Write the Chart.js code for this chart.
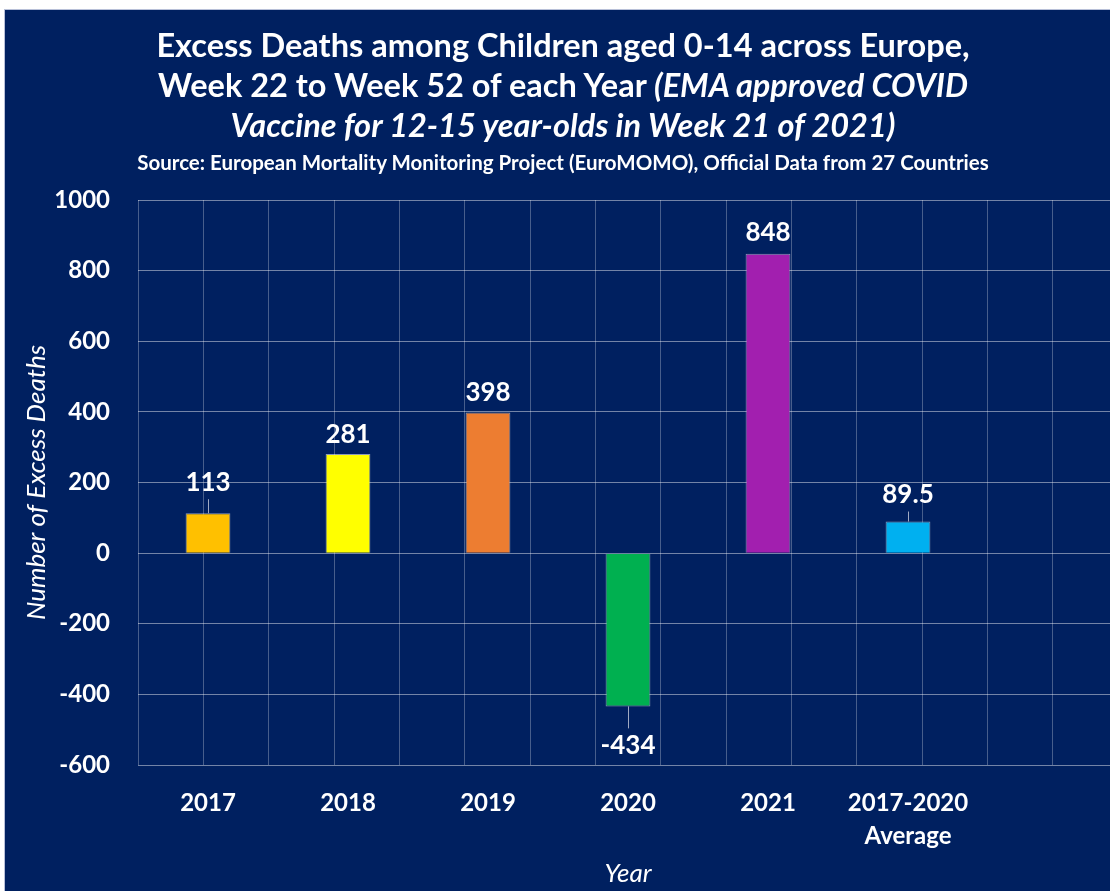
<!DOCTYPE html>
<html lang="en">
<head>
<meta charset="UTF-8">
<title>Excess Deaths among Children</title>
<script src="https://cdn.jsdelivr.net/npm/chart.js@4.4.3/dist/chart.umd.min.js"></script>
<style>
    body { margin: 0; background: #fff; }
    #box {
        position: absolute; left: 4px; top: 9px; width: 1106px; height: 882px;
        background: #002060; overflow: hidden;
        border-left: 1px solid #b8c0d8; border-top: 1px solid #b8c0d8;
    }
    #title {
        position: absolute; left: 0; top: 15px; width: 1116px;
        text-align: center; color: #fff; font-family: Lato, sans-serif; font-weight: bold;
    }
    #title .t { font-size: 32.5px; line-height: 40px; }
    #title .s { font-size: 20.5px; line-height: 22px; margin-top: 6px; }
    canvas { position: absolute; left: 0; top: 0; }
</style>
</head>
<body>
<div id="box">
    <canvas id="chart" width="1120" height="881"></canvas>
    <div id="title">
        <div class="t">Excess Deaths among Children aged 0-14 across Europe,<br>Week 22 to Week 52 of each Year <i>(EMA approved COVID<br>Vaccine for 12-15 year-olds in Week 21 of 2021)</i></div>
        <div class="s">Source: European Mortality Monitoring Project (EuroMOMO), Official Data from 27 Countries</div>
    </div>
</div>
<script>
    // データ
    const categories = ['2017', '2018', '2019', '2020', '2021', ['2017-2020', 'Average'], ''];
    const excessDeaths = [113, 281, 398, -434, 848, 89.5, null];
    const valueLabels = ['113', '281', '398', '-434', '848', '89.5', ''];
    const barColors = ['#FFC000', '#FFFF00', '#ED7D31', '#00B050', '#A21FAF', '#00B0F0', 'transparent'];
    const labelGaps = [31, 19, 20, 39, 21, 27, 0];

    const FONT = 'Lato, sans-serif';

    // 値ラベル（引き出し線つき）
    const valueLabelPlugin = {
        id: 'valueLabelPlugin',
        afterDatasetsDraw(chart) {
            const ctx = chart.ctx;
            const meta = chart.getDatasetMeta(0);
            ctx.save();
            ctx.font = 'bold 26px ' + FONT;
            ctx.fillStyle = '#fff';
            ctx.textAlign = 'center';
            ctx.textBaseline = 'middle';
            meta.data.forEach((bar, i) => {
                const v = excessDeaths[i];
                if (v === null) return;
                const dir = v >= 0 ? -1 : 1;
                const ly = bar.y + dir * labelGaps[i];
                if (labelGaps[i] > 24) {
                    ctx.strokeStyle = 'rgba(200,205,220,0.8)';
                    ctx.lineWidth = 1;
                    ctx.beginPath();
                    ctx.moveTo(Math.round(bar.x) + 0.5, bar.y);
                    ctx.lineTo(Math.round(bar.x) + 0.5, ly - dir * 17);
                    ctx.stroke();
                }
                ctx.fillText(valueLabels[i], bar.x, ly);
            });
            ctx.restore();
        }
    };

    const ctx = document.getElementById('chart').getContext('2d');
    new Chart(ctx, {
        type: 'bar',
        data: {
            labels: categories,
            datasets: [{
                data: excessDeaths,
                backgroundColor: barColors,
                borderColor: 'rgba(255,255,255,0.55)',
                borderWidth: 1,
                barPercentage: 1,
                categoryPercentage: 0.32,
            }]
        },
        plugins: [valueLabelPlugin],
        options: {
            animation: false,
            responsive: false,
            devicePixelRatio: 1,
            layout: { padding: { top: 190, left: 0, right: 7, bottom: 0 } },
            plugins: {
                legend: { display: false },
                tooltip: { enabled: false },
            },
            scales: {
                x: {
                    offset: true,
                    grid: { display: false },
                    border: { display: false },
                    ticks: {
                        color: '#fff',
                        font: { family: FONT, size: 24, weight: 'bold', lineHeight: 1.375 },
                        padding: 14,
                        maxRotation: 0,
                        autoSkip: false,
                    },
                    title: {
                        display: true,
                        text: 'Year',
                        color: '#fff',
                        font: { family: FONT, size: 26, style: 'italic' },
                        padding: { top: 0, bottom: 2 },
                    },
                    afterFit(s) { s.height = 126; },
                },
                // 縦のグリッド線だけ（カテゴリ中心と境界）
                x2: {
                    type: 'linear',
                    position: 'bottom',
                    min: 0,
                    max: 14,
                    ticks: { display: false, stepSize: 1 },
                    grid: { color: 'rgba(255,255,255,0.28)', drawTicks: false },
                    border: { display: false },
                    afterFit(s) { s.height = 0; },
                },
                y: {
                    min: -600,
                    max: 1000,
                    ticks: {
                        stepSize: 200,
                        color: '#fff',
                        font: { family: FONT, size: 24, weight: 'bold' },
                        padding: 28,
                        callback: (v) => String(v),
                    },
                    grid: { color: 'rgba(255,255,255,0.45)', drawTicks: false },
                    border: { display: false },
                    title: {
                        display: true,
                        text: 'Number of Excess Deaths',
                        color: '#fff',
                        font: { family: FONT, size: 26, style: 'italic' },
                        padding: { top: 16, bottom: 0 },
                    },
                    afterFit(s) { s.width = 133; },
                }
            }
        }
    });
</script>
</body>
</html>
